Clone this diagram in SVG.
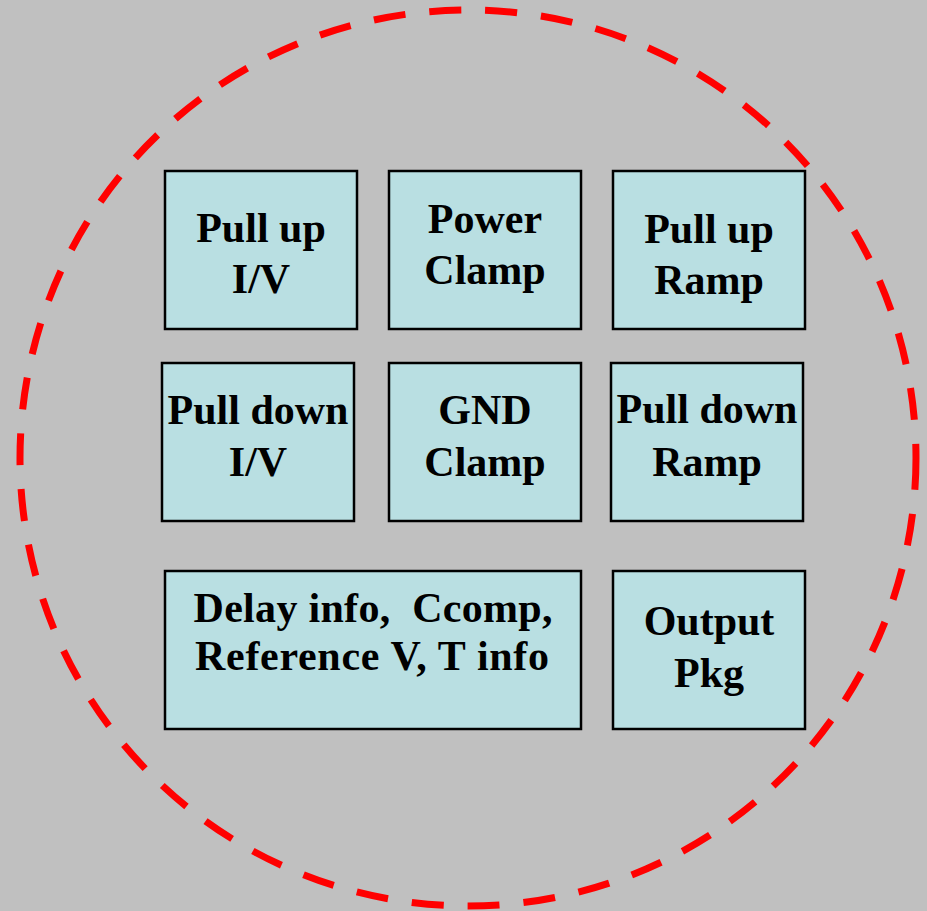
<svg xmlns="http://www.w3.org/2000/svg" width="927" height="911" viewBox="0 0 927 911">
<style>
.box{fill:#B9DFE2;stroke:#000;stroke-width:2.5}
.t{font-family:"Liberation Serif","Times New Roman",serif;font-weight:bold;font-size:42px;fill:#000;text-anchor:middle;white-space:pre}
</style>
<rect x="0" y="0" width="927" height="911" fill="#C0C0C0"/>
<circle id="boundary" cx="468" cy="458" r="448" fill="none" stroke="#FF0000" stroke-width="7" stroke-dasharray="32 24"/>
<g id="connectors"></g>
<g id="pullup-iv"><rect class="box" x="165" y="171" width="192" height="158"/><text class="t" x="261" y="242">Pull up</text><text class="t" x="261" y="293">I/V</text></g>
<g id="power-clamp"><rect class="box" x="389" y="171" width="192" height="158"/><text class="t" x="485" y="233">Power</text><text class="t" x="485" y="284">Clamp</text></g>
<g id="pullup-ramp"><rect class="box" x="613" y="171" width="192" height="158"/><text class="t" x="709" y="243">Pull up</text><text class="t" x="709" y="294">Ramp</text></g>
<g id="pulldown-iv"><rect class="box" x="162" y="363" width="192" height="158"/><text class="t" x="258" y="424">Pull down</text><text class="t" x="258" y="476">I/V</text></g>
<g id="gnd-clamp"><rect class="box" x="389" y="363" width="192" height="158"/><text class="t" x="485" y="424">GND</text><text class="t" x="485" y="476">Clamp</text></g>
<g id="pulldown-ramp"><rect class="box" x="611" y="363" width="192" height="158"/><text class="t" x="707" y="423">Pull down</text><text class="t" x="707" y="476">Ramp</text></g>
<g id="delay-info"><rect class="box" x="165" y="571" width="416" height="158"/><text class="t" x="373" y="622" xml:space="preserve" textLength="359" lengthAdjust="spacing">Delay info,  Ccomp,</text><text class="t" x="372" y="670" textLength="354" lengthAdjust="spacing">Reference V, T info</text></g>
<g id="output-pkg"><rect class="box" x="613" y="571" width="192" height="158"/><text class="t" x="709" y="635">Output</text><text class="t" x="709" y="687">Pkg</text></g>
</svg>
